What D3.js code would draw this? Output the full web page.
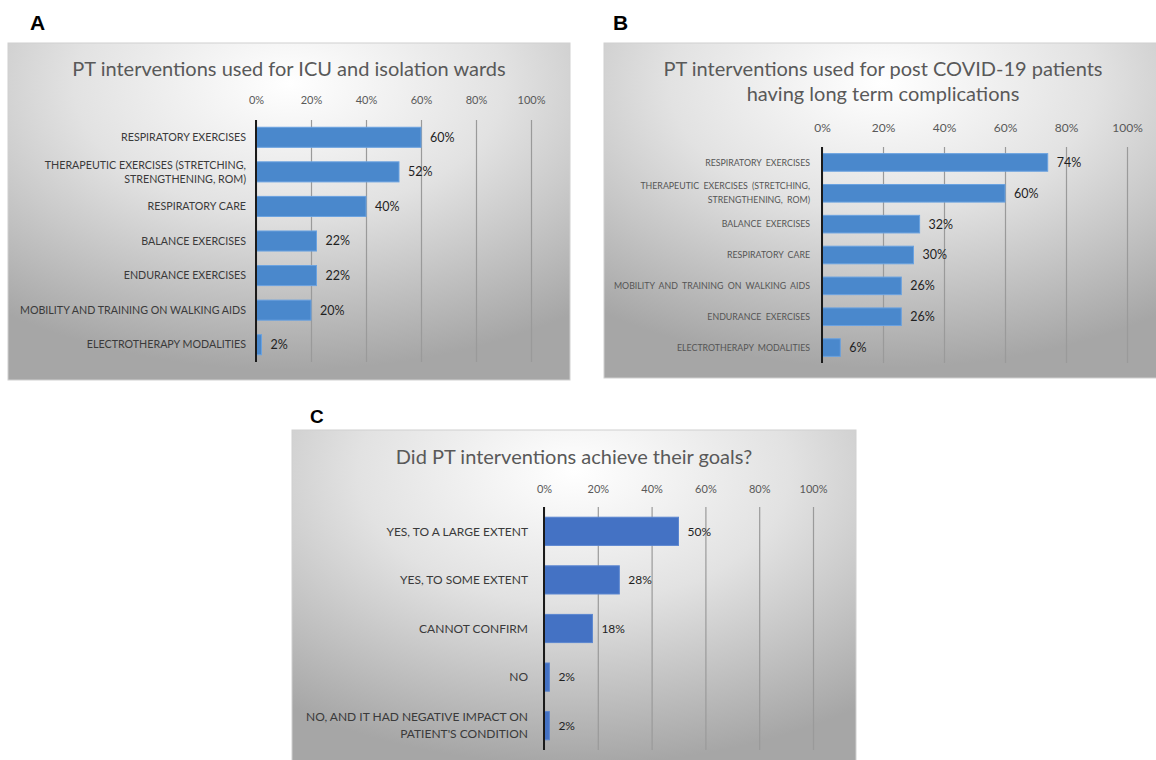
<!DOCTYPE html>
<html>
<head>
<meta charset="utf-8">
<script src="https://cdn.jsdelivr.net/npm/d3@7"></script>
<style>
  html, body { margin: 0; padding: 0; background: #ffffff; }
  svg { display: block; }
  text { font-family: Lato, "Open Sans", sans-serif; }
</style>
</head>
<body>
<svg id="chart" width="1156" height="760"></svg>
<script>
// ---- data -------------------------------------------------------------
const icuCategories = [
  "RESPIRATORY EXERCISES",
  "THERAPEUTIC EXERCISES (STRETCHING,\nSTRENGTHENING, ROM)",
  "RESPIRATORY CARE",
  "BALANCE EXERCISES",
  "ENDURANCE EXERCISES",
  "MOBILITY AND TRAINING ON WALKING AIDS",
  "ELECTROTHERAPY MODALITIES"
];
const icuValues = [60, 52, 40, 22, 22, 20, 2];

const postCategories = [
  "RESPIRATORY EXERCISES",
  "THERAPEUTIC EXERCISES (STRETCHING,\nSTRENGTHENING, ROM)",
  "BALANCE EXERCISES",
  "RESPIRATORY CARE",
  "MOBILITY AND TRAINING ON WALKING AIDS",
  "ENDURANCE EXERCISES",
  "ELECTROTHERAPY MODALITIES"
];
const postValues = [74, 60, 32, 30, 26, 26, 6];

const goalCategories = [
  "YES, TO A LARGE EXTENT",
  "YES, TO SOME EXTENT",
  "CANNOT CONFIRM",
  "NO",
  "NO, AND IT HAD NEGATIVE IMPACT ON\nPATIENT'S CONDITION"
];
const goalValues = [50, 28, 18, 2, 2];

const tickValues = [0, 20, 40, 60, 80, 100];
const tickLabels = ["0%", "20%", "40%", "60%", "80%", "100%"];

const panelLetters = ["A", "B", "C"];
const icuTitle = ["PT interventions used for ICU and isolation wards"];
const postTitle = ["PT interventions used for post COVID-19 patients", "having long term complications"];
const goalTitle = ["Did PT interventions achieve their goals?"];

// ---- drawing ----------------------------------------------------------
const svg = d3.select("#chart");
const defs = svg.append("defs");

function drawPanel(cfg) {
  const g = svg.append("g");

  // radial-shaded chart background
  const grad = defs.append("radialGradient")
    .attr("id", cfg.id + "-bg")
    .attr("cx", 0.5).attr("cy", 0.12).attr("r", 0.85);
  grad.append("stop").attr("offset", 0).attr("stop-color", "#ffffff");
  grad.append("stop").attr("offset", 0.45).attr("stop-color", "#e2e2e2");
  grad.append("stop").attr("offset", 1).attr("stop-color", "#a6a6a6");

  g.append("rect")
    .attr("x", cfg.box[0]).attr("y", cfg.box[1])
    .attr("width", cfg.box[2] - cfg.box[0]).attr("height", cfg.box[3] - cfg.box[1])
    .attr("fill", `url(#${cfg.id}-bg)`)
    .attr("stroke", "#d0d0d0").attr("stroke-width", 1);

  // panel letter
  g.append("text")
    .attr("x", cfg.letterPos[0]).attr("y", cfg.letterPos[1])
    .style("font-family", "'Liberation Sans', Arial, sans-serif")
    .style("font-weight", "bold")
    .style("font-size", cfg.letterSize + "px")
    .attr("fill", "#000")
    .text(cfg.letter);

  // title
  const cx = (cfg.box[0] + cfg.box[2]) / 2;
  g.append("g").selectAll("text").data(cfg.title).join("text")
    .attr("x", cx)
    .attr("y", (d, i) => cfg.titleY + i * cfg.titleLead)
    .attr("text-anchor", "middle")
    .style("font-size", cfg.titleSize + "px")
    .attr("fill", "#595959")
    .text(d => d);

  const x = d3.scaleLinear().domain([0, 100]).range(cfg.xRange);
  const y = d3.scaleBand().domain(cfg.categories).range(cfg.yRange)
    .paddingInner(cfg.pad).paddingOuter(cfg.pad / 2);

  // top axis labels + vertical gridlines
  const axis = d3.axisTop(x)
    .tickValues(tickValues)
    .tickFormat((d, i) => tickLabels[i])
    .tickSize(-(cfg.yRange[1] - cfg.yRange[0]))
    .tickPadding(cfg.tickPad);
  const ax = g.append("g")
    .attr("transform", `translate(0,${cfg.yRange[0]})`)
    .call(axis);
  ax.select(".domain").remove();
  ax.selectAll(".tick line").attr("stroke", "#9a9a9a").attr("stroke-width", 1.2);
  ax.selectAll(".tick text")
    .attr("fill", "#595959")
    .style("font-family", "Lato, sans-serif")
    .style("font-size", cfg.tickSize + "px");

  // bars
  g.append("g").selectAll("rect").data(cfg.values).join("rect")
    .attr("x", x(0))
    .attr("y", (d, i) => y(cfg.categories[i]))
    .attr("width", d => x(d) - x(0))
    .attr("height", y.bandwidth())
    .attr("fill", cfg.barColor)
    .attr("stroke", cfg.barStroke).attr("stroke-width", 1);

  // value labels
  g.append("g").selectAll("text").data(cfg.values).join("text")
    .attr("x", d => x(d) + cfg.valueGap)
    .attr("y", (d, i) => y(cfg.categories[i]) + y.bandwidth() / 2)
    .attr("dy", "0.35em")
    .style("font-size", cfg.valueSize + "px")
    .attr("fill", "#1f1f1f")
    .text(d => d + "%");

  // category labels (right-aligned, may wrap onto two lines)
  const labels = g.append("g").selectAll("text").data(cfg.categories).join("text")
    .attr("x", x(0) - cfg.labelGap)
    .attr("y", d => y(d) + y.bandwidth() / 2)
    .attr("text-anchor", "end")
    .style("font-size", cfg.labelSize + "px")
    .style("word-spacing", cfg.wordSpacing + "px")
    .attr("fill", cfg.labelColor);
  labels.each(function (d) {
    const lines = d.split("\n");
    const t = d3.select(this);
    const off = -(lines.length - 1) / 2 * cfg.labelLead;
    lines.forEach((ln, i) => {
      t.append("tspan")
        .attr("x", x(0) - cfg.labelGap)
        .attr("y", y(d) + y.bandwidth() / 2 + off + i * cfg.labelLead)
        .attr("dy", "0.35em")
        .text(ln);
    });
  });

  // vertical category axis line
  g.append("line")
    .attr("x1", x(0)).attr("x2", x(0))
    .attr("y1", cfg.yRange[0]).attr("y2", cfg.yRange[1])
    .attr("stroke", "#1a1a1a").attr("stroke-width", 2);
}

drawPanel({
  id: "icu", letter: panelLetters[0], letterPos: [30, 30], letterSize: 21,
  box: [8, 43, 570, 380],
  title: icuTitle, titleY: 76, titleLead: 25, titleSize: 20,
  categories: icuCategories, values: icuValues,
  xRange: [256, 531], yRange: [120, 362], pad: 0.42,
  tickPad: 16, tickSize: 11,
  barColor: "#4a88cc", barStroke: "#6aa2e0",
  valueGap: 9, valueSize: 12.5,
  labelGap: 10, labelSize: 10.7, labelLead: 14, labelColor: "#3a3a3a", wordSpacing: 0
});

drawPanel({
  id: "post", letter: panelLetters[1], letterPos: [613, 30], letterSize: 21,
  box: [604, 43, 1162, 378],
  title: postTitle, titleY: 76, titleLead: 25, titleSize: 20,
  categories: postCategories, values: postValues,
  xRange: [822, 1127], yRange: [147, 363], pad: 0.43,
  tickPad: 15, tickSize: 12,
  barColor: "#4a88cc", barStroke: "#6aa2e0",
  valueGap: 9, valueSize: 12.5,
  labelGap: 12, labelSize: 8.8, labelLead: 14, labelColor: "#555555", wordSpacing: 2
});

drawPanel({
  id: "goal", letter: panelLetters[2], letterPos: [310, 423], letterSize: 19,
  box: [292, 430, 856, 775],
  title: goalTitle, titleY: 464, titleLead: 25, titleSize: 20,
  categories: goalCategories, values: goalValues,
  xRange: [544, 813], yRange: [507, 750], pad: 0.42,
  tickPad: 14, tickSize: 11,
  barColor: "#4472c4", barStroke: "#5b86d0",
  valueGap: 9, valueSize: 12,
  labelGap: 16, labelSize: 12, labelLead: 17, labelColor: "#3a3a3a", wordSpacing: 0
});
</script>
</body>
</html>
